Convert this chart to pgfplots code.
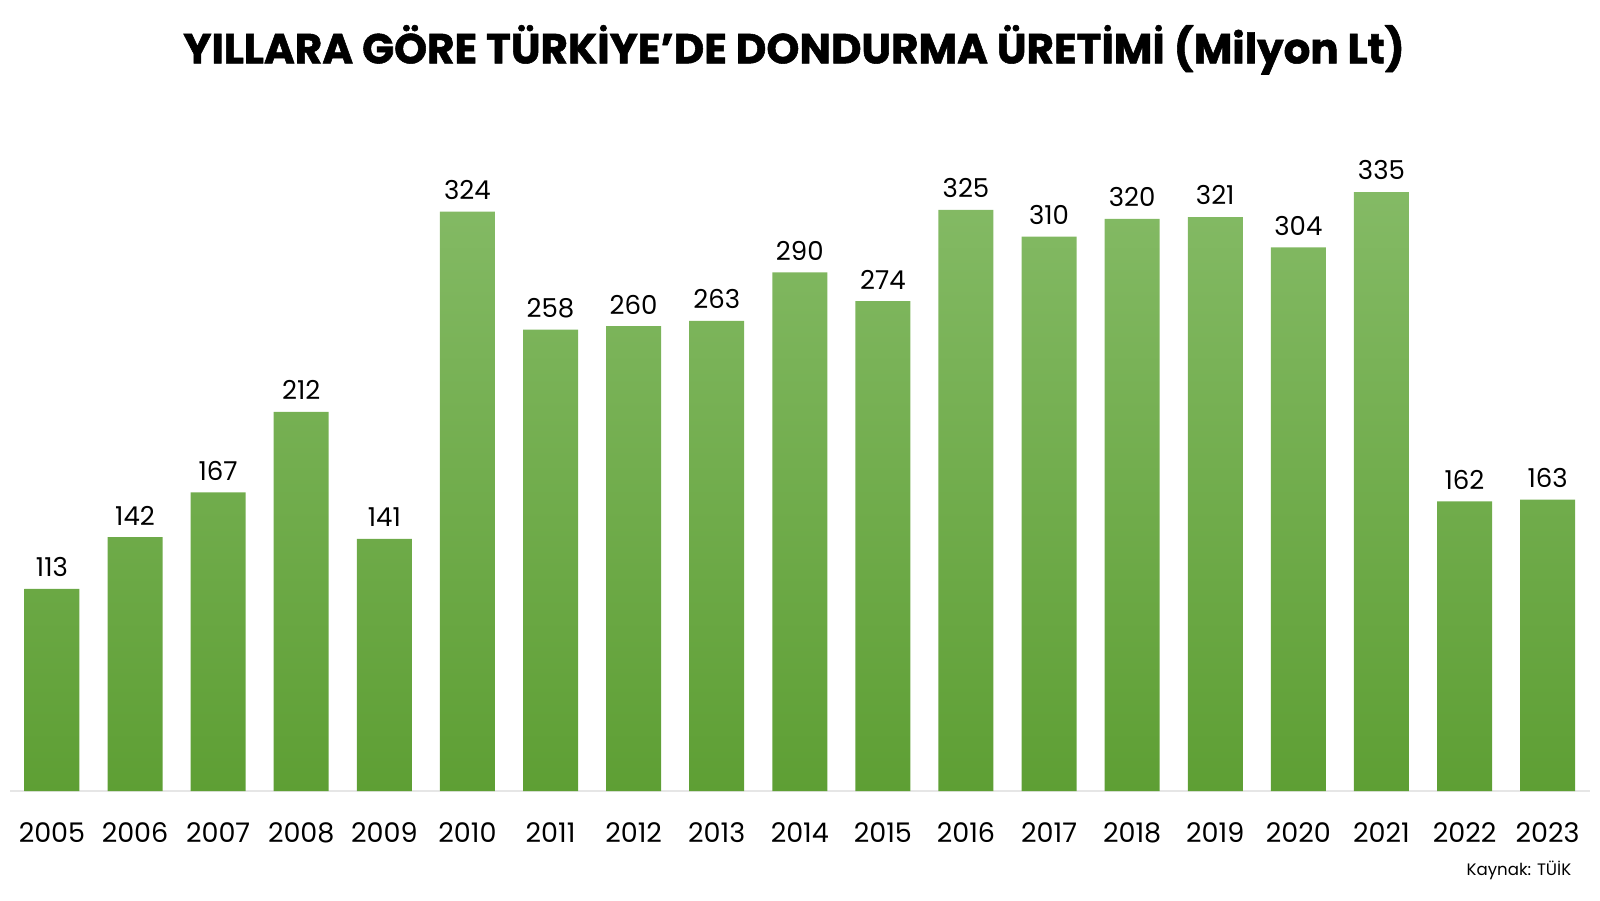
\documentclass[border=0pt]{standalone}
\usepackage{pgfplots}
\pgfplotsset{compat=1.18}
\usepackage{fontspec}
\setmainfont{Poppins}
\newfontfamily\titlefont{Poppins}[BoldFeatures={FakeBold=1.3}]
\definecolor{barTop}{HTML}{84BA65}
\definecolor{barBot}{HTML}{5E9F34}
\definecolor{baseLine}{HTML}{E6E6E6}
\begin{document}
\begin{tikzpicture}
\useasboundingbox (0,0) rectangle (800pt,450pt);
\node[anchor=base, font=\fontsize{21}{24}\titlefont\bfseries] at (397pt,418.3pt) {YILLARA GÖRE TÜRKİYE’DE DONDURMA ÜRETİMİ (Milyon Lt)};
\node[anchor=base east, inner sep=0pt, font=\fontsize{8.3}{10}\selectfont] at (785.8pt,12.15pt) {Kaynak: TÜİK};
\begin{axis}[
  at={(5pt,54.5pt)}, anchor=south west,
  scale only axis, width=790pt, height=357.6pt,
  xmin=-0.505, xmax=18.51, ymin=0, ymax=400,
  ybar, bar width=0.662,
  axis x line*=bottom, axis y line=none,
  x axis line style={-, draw=baseLine, line width=0.6pt},
  xtick=data, major tick length=0pt,
  xticklabels={2005,2006,2007,2008,2009,2010,2011,2012,2013,2014,2015,2016,2017,2018,2019,2020,2021,2022,2023},
  xticklabel style={anchor=base, yshift=-25.75pt, font=\fontsize{13.5}{15}\selectfont},
  ytick=\empty,
  /pgf/number format/assume math mode=true,
  nodes near coords,
  every node near coord/.append style={inner sep=0pt, yshift=5.8pt, font=\fontsize{13}{15}\selectfont, text=black},
  clip=false,
]
\addplot[draw=none, top color=barTop, bottom color=barBot] coordinates {
(0,113) (1,142) (2,167) (3,212) (4,141) (5,324) (6,258) (7,260) (8,263) (9,290)
(10,274) (11,325) (12,310) (13,320) (14,321) (15,304) (16,335) (17,162) (18,163)};
\end{axis}
\end{tikzpicture}
\end{document}
